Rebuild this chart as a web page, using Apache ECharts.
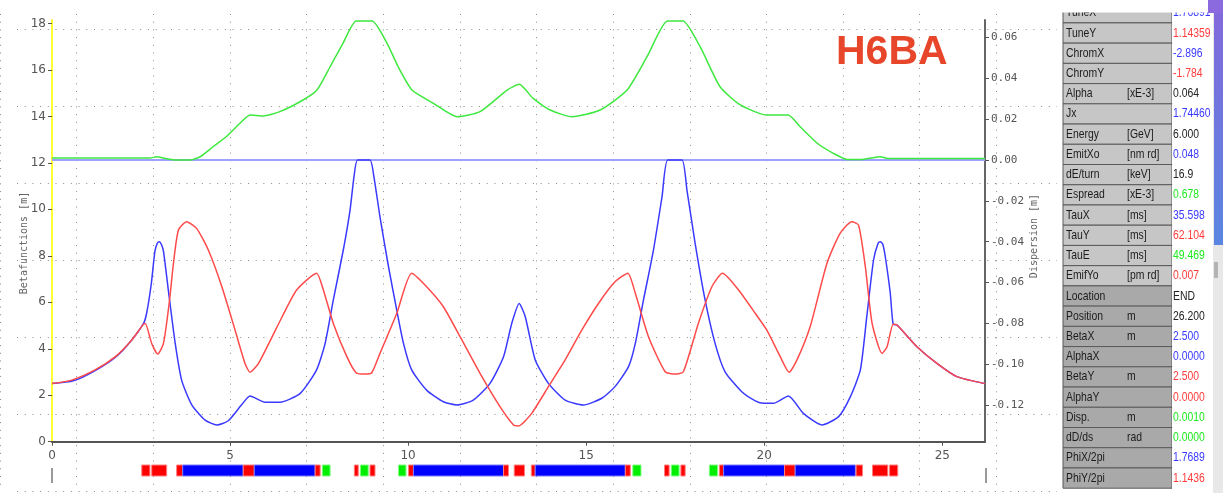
<!DOCTYPE html>
<html><head><meta charset="utf-8">
<script src="https://cdn.jsdelivr.net/npm/echarts@6/dist/echarts.min.js"></script>
<style>html,body{margin:0;padding:0;background:#fff;overflow:hidden}#c{width:1223px;height:493px}</style>
</head><body><div id="c"></div>
<script>
// ---- data ----
const sBetaX = [0,0.6,1.2,1.8,2.24,2.57,2.66,2.79,2.89,2.96,3.01,3.07,3.13,3.29,3.46,3.64,3.92,4.30,4.63,4.95,5.33,5.56,5.98,6.40,6.97,7.43,7.67,7.90,8.18,8.37,8.48,8.58,8.93,9.04,9.21,9.45,9.68,9.87,10.10,10.52,10.99,11.37,11.83,12.30,12.68,12.91,13.12,13.29,13.57,13.94,14.41,14.92,15.44,15.81,16.19,16.38,16.61,16.89,17.13,17.29,17.69,17.83,18.06,18.34,18.62,18.90,19.37,19.75,19.98,20.26,20.68,21.10,21.62,22.09,22.42,22.70,22.88,23.07,23.20,23.26,23.33,23.40,23.54,23.62,23.73,24.29,24.85,25.41,26.2];
const betaX  = [2.50,2.62,3.05,3.66,4.38,5.09,5.55,6.82,8.20,8.55,8.61,8.50,8.20,6.24,4.23,2.65,1.60,0.93,0.72,0.90,1.60,1.97,1.70,1.70,2.08,3.09,4.23,6.10,8.25,9.97,11.40,12.12,12.12,11.40,9.68,7.53,5.67,4.23,3.09,2.22,1.72,1.58,1.79,2.51,3.66,5.09,5.95,5.38,3.52,2.51,1.79,1.58,1.87,2.37,3.23,4.23,6.10,8.25,10.54,12.12,12.12,10.83,8.54,6.10,4.23,3.01,2.15,1.76,1.65,1.65,1.97,1.22,0.72,1.08,1.94,3.09,5.38,7.82,8.55,8.61,8.50,7.96,6.39,5.06,5.02,4.09,3.37,2.80,2.50];
const sBetaY = [0,0.55,1.21,1.78,2.24,2.57,2.62,2.80,2.97,3.13,3.29,3.41,3.55,3.78,4.06,4.39,4.77,5.14,5.42,5.56,5.80,6.47,6.87,7.43,7.62,7.90,8.28,8.54,8.79,8.98,9.21,9.68,10.10,10.52,10.99,11.46,12.02,12.58,12.96,13.10,13.47,13.94,14.41,14.88,15.35,15.81,16.17,16.38,16.75,17.22,17.50,17.73,18.15,18.53,18.83,19.28,19.75,20.07,20.45,20.70,20.92,21.29,21.76,22.13,22.46,22.65,22.84,23.03,23.31,23.45,23.62,23.73,24.29,24.85,25.41,26.2];
const betaY  = [2.50,2.65,3.09,3.66,4.38,5.06,5.09,4.23,3.77,4.23,5.95,7.67,9.11,9.47,9.18,8.25,6.67,4.81,3.37,2.99,3.37,5.40,6.53,7.25,6.53,5.09,3.66,2.97,2.91,2.97,3.80,5.52,7.25,6.67,5.81,4.52,2.94,1.51,0.72,0.68,1.22,2.37,3.52,4.81,5.96,6.88,7.25,6.39,4.52,3.01,2.91,3.01,5.09,6.67,7.25,6.53,5.52,4.81,3.66,2.99,3.52,4.95,7.67,8.97,9.47,9.32,7.53,5.09,3.80,4.09,5.06,5.02,4.09,3.37,2.80,2.50];
const sDisp = [0,2.75,2.95,3.17,3.51,3.88,4.16,4.52,4.89,5.28,5.56,5.93,6.40,7.05,7.44,7.81,8.17,8.54,8.76,8.99,9.41,9.72,10.11,10.70,11.38,12.02,12.78,13.12,13.51,13.99,14.61,15.39,16.15,16.71,17.28,17.50,17.72,18.20,18.76,19.33,20.08,20.67,21.01,21.49,21.94,22.33,22.75,23.26,23.46,26.2];
const disp  = [0.0010,0.0010,0.0016,0.0008,0.0000,0.0000,0.0016,0.0065,0.0114,0.0180,0.0220,0.0216,0.0237,0.0294,0.0343,0.0457,0.0572,0.0681,0.0681,0.0681,0.0572,0.0457,0.0343,0.0279,0.0212,0.0237,0.0343,0.0371,0.0302,0.0245,0.0212,0.0245,0.0343,0.0506,0.0681,0.0681,0.0681,0.0555,0.0359,0.0270,0.0220,0.0220,0.0163,0.0082,0.0033,0.0003,0.0003,0.0016,0.0008,0.0008];

const xTicks = [0,5,10,15,20,25];
const betaTicks = [0,2,4,6,8,10,12,14,16,18];
const dispTicks = [-0.12,-0.10,-0.08,-0.06,-0.04,-0.02,0,0.02,0.04,0.06];

const magnetStart = [2.52,2.80,3.50,3.67,5.37,5.68,7.39,7.59,8.49,8.66,8.93,9.73,10.01,10.15,12.68,12.98,13.46,13.57,16.10,16.31,17.20,17.39,17.66,18.46,18.74,18.86,20.57,20.87,22.58,23.04,23.52];
const magnetEnd   = [2.75,3.22,3.67,5.37,5.68,7.39,7.53,7.81,8.60,8.88,9.07,9.94,10.15,12.68,12.82,13.27,13.57,16.10,16.24,16.54,17.33,17.61,17.78,18.69,18.86,20.57,20.87,22.56,22.76,23.47,23.75];
const magnetKind  = ['Q','Q','Q','B','Q','B','Q','S','Q','S','Q','S','Q','B','Q','Q','Q','B','Q','S','Q','S','Q','S','Q','B','Q','B','Q','Q','Q'];

const panelNames  = ['TuneX','TuneY','ChromX','ChromY','Alpha','Jx','Energy','EmitXo','dE/turn','Espread','TauX','TauY','TauE','EmifYo','Location','Position','BetaX','AlphaX','BetaY','AlphaY','Disp.','dD/ds','PhiX/2pi','PhiY/2pi'];
const panelUnits  = ['','','','','[xE-3]','','[GeV]','[nm rd]','[keV]','[xE-3]','[ms]','[ms]','[ms]','[pm rd]','','m','m','','m','','m','rad','',''];
const panelValues = ['1.76891','1.14359','-2.896','-1.784','0.064','1.74460','6.000','0.048','16.9','0.678','35.598','62.104','49.469','0.007','END','26.200','2.500','0.0000','2.500','0.0000','0.0010','0.0000','1.7689','1.1436'];
const panelColors = ['b','r','b','r','k','b','k','b','k','g','b','r','g','r','k','k','b','b','r','r','g','g','b','r'];

// ---- styles ----
const C = {b:'#3a3aff', r:'#ff3b3b', g:'#22e822', k:'#222222'};
const kindFill = {B:'#0000ff', Q:'#ff0000', S:'#00ee00'};
const kindStroke = {B:'#7a7aff', Q:'#ff8080', S:'#80ff80'};
const zip = (a,b)=>a.map((v,i)=>[v,b[i]]);

const X0 = 52, XW = 933;
const dotted = {color:'#8a8a8a', width:1, type:[1,6.7]};
const panelFont = '13px "Liberation Sans", Arial, sans-serif';
const NARROW = 0.8;

// right info panel (graphic, built from the arrays)
const panel = [];
const rowH = 20.23, row0 = 12.77;
panel.push({type:'rect', shape:{x:1060,y:0,width:163,height:493}, style:{fill:'#ffffff'}, z:90});
panelNames.forEach((n,k)=>{
  const cy = row0 + rowH*k;
  const dark = k >= 14;
  panel.push({type:'rect', shape:{x:1063,y:cy-10.1,width:109,height:rowH}, style:{fill: dark?'#a9a9a9':'#c6c6c6', stroke:'#5a5a5a', lineWidth:1}, z:100});
  panel.push({type:'rect', shape:{x:1172,y:cy-10.1,width:41,height:rowH}, style:{fill:'#ffffff'}, z:100});
  panel.push({type:'text', x:1066, y:cy, scaleX:NARROW, style:{text:n, fill:'#1c1c1c', font:panelFont, textVerticalAlign:'middle'}, z:101});
  if (panelUnits[k]) panel.push({type:'text', x:1127, y:cy, scaleX:NARROW, style:{text:panelUnits[k], fill:'#1c1c1c', font:panelFont, textVerticalAlign:'middle'}, z:101});
  panel.push({type:'text', x:1173, y:cy, scaleX:NARROW, style:{text:panelValues[k], fill:C[panelColors[k]], font:panelFont, textVerticalAlign:'middle'}, z:101});
});
panel.push({type:'rect', shape:{x:1058,y:0,width:152,height:12.5}, style:{fill:'#ffffff'}, z:105});
panel.push({type:'rect', shape:{x:1213,y:0,width:10,height:493}, style:{fill:'#e8e8e8'}, z:104});
panel.push({type:'rect', shape:{x:1214,y:262,width:4,height:16}, style:{fill:'#b4b4b4'}, z:105});
panel.push({type:'rect', shape:{x:1214,y:0,width:9,height:245}, style:{fill:{type:'linear',x:0,y:0,x2:0,y2:1,colorStops:[{offset:0,color:'#8468dc'},{offset:1,color:'#5a86e2'}]}}, z:106});
panel.push({type:'rect', shape:{x:1208,y:0,width:15,height:13}, style:{fill:'#8a6ade'}, z:106});

const chart = echarts.init(document.getElementById('c'));
chart.setOption({
  animation:false,
  backgroundColor:'#ffffff',
  grid:[
    {left:X0, top:20, width:XW, height:421.7},          // main
    {left:-5, top:14, width:1078, height:477},          // background vertical dots
    {left:17, top:29, width:1040, height:462},          // background horizontal dots
    {left:X0, top:465, width:XW, height:11},            // lattice
    {left:X0, top:468, width:XW+1, height:15}           // lattice end marks
  ],
  xAxis:[
    {gridIndex:0, type:'value', min:0, max:26.2, interval:5,
     axisLine:{show:true, onZero:false, lineStyle:{color:'#555', width:2}},
     axisTick:{show:true, length:4, lineStyle:{color:'#555'}, customValues:xTicks},
     axisLabel:{color:'#555', fontSize:12, fontFamily:'"DejaVu Sans", sans-serif', margin:8, customValues:xTicks, formatter:v=>String(v)},
     splitLine:{show:false}},
    {gridIndex:1, type:'value', min:0, max:1078, interval:77, axisLine:{show:false}, axisTick:{show:false}, axisLabel:{show:false}, splitLine:{show:true, lineStyle:dotted}},
    {gridIndex:2, type:'value', min:0, max:1, axisLine:{show:false}, axisTick:{show:false}, axisLabel:{show:false}, splitLine:{show:false}},
    {gridIndex:3, type:'value', min:0, max:26.2, show:false},
    {gridIndex:4, type:'value', min:0, max:1, interval:1, axisLine:{show:false}, axisTick:{show:false}, axisLabel:{show:false}, splitLine:{show:true, lineStyle:{color:'#9a9a9a', width:2}}}
  ],
  yAxis:[
    {gridIndex:0, type:'value', min:0, max:18.15, interval:2, position:'left',
     axisLine:{show:true, lineStyle:{color:'#ffff33', width:2}},
     axisTick:{show:true, length:4, lineStyle:{color:'#555'}, customValues:betaTicks},
     axisLabel:{color:'#555', fontSize:12, fontFamily:'"DejaVu Sans", sans-serif', margin:6, customValues:betaTicks},
     splitLine:{show:false}},
    {gridIndex:0, type:'value', min:-0.138, max:0.0686, position:'right',
     axisLine:{show:true, lineStyle:{color:'#666', width:2}},
     axisTick:{show:true, length:4, lineStyle:{color:'#555'}, customValues:dispTicks},
     axisLabel:{color:'#555', fontSize:11, fontFamily:'"DejaVu Sans Mono", monospace', margin:6, customValues:dispTicks, formatter:v=>v.toFixed(2)},
     splitLine:{show:false}},
    {gridIndex:1, type:'value', min:0, max:1, axisLine:{show:false}, axisTick:{show:false}, axisLabel:{show:false}, splitLine:{show:false}},
    {gridIndex:2, type:'value', min:0, max:462, interval:77, axisLine:{show:false}, axisTick:{show:false}, axisLabel:{show:false}, splitLine:{show:true, lineStyle:dotted}},
    {gridIndex:3, type:'value', min:0, max:1, show:false},
    {gridIndex:4, type:'value', min:0, max:1, show:false}
  ],
  graphic:[
    {type:'text', x:24, y:243, rotation:Math.PI/2, style:{text:'Betafunctions [m]', fill:'#666', font:'10px "DejaVu Sans Mono", monospace', textAlign:'center', textVerticalAlign:'middle'}},
    {type:'text', x:1034, y:236, rotation:Math.PI/2, style:{text:'Dispersion [m]', fill:'#666', font:'10px "DejaVu Sans Mono", monospace', textAlign:'center', textVerticalAlign:'middle'}},
    {type:'text', x:836, y:53, style:{text:'H6BA', fill:'#e8462a', font:'bold 41px "Liberation Sans", Arial, sans-serif', textVerticalAlign:'middle'}, z:50},
    ...panel
  ],
  series:[
    {name:'BetaX', type:'line', xAxisIndex:0, yAxisIndex:0, data:zip(sBetaX,betaX), showSymbol:false, smooth:0.2, lineStyle:{color:C.b, width:1.5}, z:3},
    {name:'BetaY', type:'line', xAxisIndex:0, yAxisIndex:0, data:zip(sBetaY,betaY), showSymbol:false, smooth:0.2, lineStyle:{color:'#ff4a4a', width:1.5}, z:4},
    {name:'Dispersion', type:'line', xAxisIndex:0, yAxisIndex:1, data:zip(sDisp,disp), showSymbol:false, smooth:0.2, lineStyle:{color:'#3ee83e', width:1.5}, z:5,
     markLine:{silent:true, symbol:'none', label:{show:false}, lineStyle:{color:'#9ea2ff', width:2, type:'solid'}, data:[{yAxis:0}], z:2}},
    {name:'Lattice', type:'custom', xAxisIndex:3, yAxisIndex:4,
     data: magnetStart.map((s,i)=>[s, magnetEnd[i], i]),
     renderItem:(params, api)=>{
       const i = api.value(2); const k = magnetKind[i];
       const p1 = api.coord([api.value(0), 1]);
       const p2 = api.coord([api.value(1), 0]);
       return {type:'rect', shape:{x:p1[0], y:p1[1], width:p2[0]-p1[0], height:p2[1]-p1[1]},
               style:{fill:kindFill[k], stroke:kindStroke[k], lineWidth:1}};
     }, z:3}
  ]
});
</script>
</body></html>
